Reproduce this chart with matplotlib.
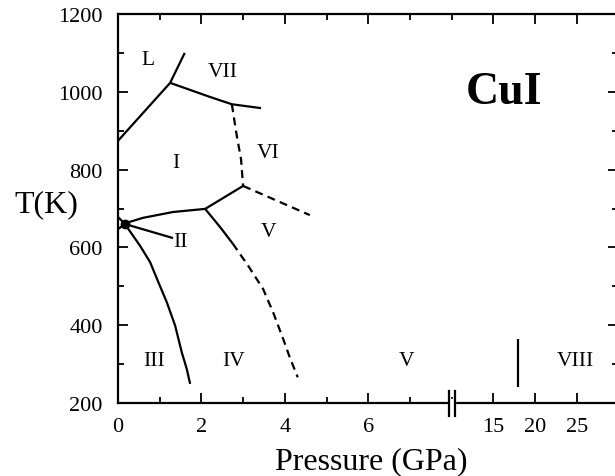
import numpy as np
import matplotlib
matplotlib.use("Agg")
import matplotlib.pyplot as plt
from matplotlib.patches import Rectangle
from matplotlib.transforms import blended_transform_factory

plt.rcParams["font.family"] = ["Liberation Serif", "DejaVu Serif"]

# ---------- phase boundaries of CuI (pressure in GPa, temperature in K) ----------
melt_I_P = [0.0, 1.25]
melt_I_T = [874, 1023]
melt_VII_P = [1.25, 1.6]
melt_VII_T = [1023, 1100]
I_VII_P = [1.25, 2.2, 2.73, 3.43]
I_VII_T = [1023, 987, 968, 958]
I_VI_P = [2.73, 2.85, 2.95, 3.0]
I_VI_T = [968, 886, 827, 758]
VI_V_P = [3.0, 4.6]
VI_V_T = [758, 683]
I_V_P = [2.09, 3.0]
I_V_T = [699, 758]
I_II_P = [0.17, 0.6, 1.32, 2.09]
I_II_T = [662, 676, 691, 699]
II_tail_P = [0.17, 1.32]
II_tail_T = [660, 624]
wedge_top_P = [0.0, 0.17]
wedge_top_T = [678, 660]
wedge_bot_P = [0.0, 0.17]
wedge_bot_T = [647, 660]
III_IV_P = [0.17, 0.25, 0.53, 0.77, 0.97, 1.17, 1.37, 1.53, 1.65, 1.73]
III_IV_T = [660, 647, 604, 562, 510, 459, 399, 330, 287, 249]
IV_V_P = [2.09, 2.45, 2.75]
IV_V_T = [699, 652, 610]
IV_V_dash_P = [2.75, 3.12, 3.48, 3.72, 3.96, 4.12, 4.31]
IV_V_dash_T = [610, 553, 493, 433, 365, 317, 266]
V_VIII_P = [18, 18]
V_VIII_T = [241, 364]
triple_P = 0.17
triple_T = 660

# phase names and where they sit
phase_names = ["L", "VII", "I", "VI", "II", "V", "III", "IV", "V", "VIII"]
phase_P = [0.72, 2.52, 1.39, 3.6, 1.49, 3.6, 0.86, 2.76, 6.93, 24.8]
phase_T = [1084, 1051, 817, 843, 614, 640, 308, 308, 308, 308]

tick_P = [0, 2, 4, 6, 15, 20, 25]
tick_labels = ["0", "2", "4", "6", "15", "20", "25"]


def to_axis(p):
    # low range is linear in GPa, high range compressed by 5
    p = np.asarray(p, dtype=float)
    return np.where(p <= 8, p, 6 + p / 5)


fig = plt.figure(figsize=(6.15, 4.77), dpi=100)
ax = fig.add_axes([118 / 615, 73 / 477, 500 / 615, 389 / 477])

lw = 1.6
solid = [(melt_I_P, melt_I_T), (melt_VII_P, melt_VII_T), (I_VII_P, I_VII_T),
         (I_V_P, I_V_T), (I_II_P, I_II_T), (II_tail_P, II_tail_T),
         (wedge_top_P, wedge_top_T), (wedge_bot_P, wedge_bot_T),
         (III_IV_P, III_IV_T), (IV_V_P, IV_V_T), (V_VIII_P, V_VIII_T)]
dashed = [(I_VI_P, I_VI_T), (VI_V_P, VI_V_T), (IV_V_dash_P, IV_V_dash_T)]

for p, t in solid:
    ax.plot(to_axis(p), t, color="black", lw=lw, solid_capstyle="butt",
            solid_joinstyle="round")
for p, t in dashed:
    ax.plot(to_axis(p), t, color="black", lw=lw, dashes=(3.6, 2.4))

ax.plot(to_axis([triple_P]), [triple_T], "o", color="black", ms=6)

for name, p, t in zip(phase_names, phase_P, phase_T):
    ax.text(to_axis(p), t, name, fontsize=15.5, ha="center", va="center")

ax.text(to_axis(16.3), 1000, "CuI", fontsize=33, fontweight="bold",
        ha="center", va="center")

ax.set_xlim(0, 11.99)
ax.set_ylim(200, 1200)

ax.set_xticks(to_axis(tick_P), labels=tick_labels)
ax.set_xticks([1, 3, 5, 7, 8, 11], minor=True)
ax.set_yticks(np.arange(200, 1201, 200))
ax.set_yticks(np.arange(300, 1200, 200), minor=True)
ax.tick_params(which="both", direction="in", top=True, right=True,
               labelsize=16, width=1.3)
ax.tick_params(which="major", length=7)
ax.tick_params(which="minor", length=4)
ax.tick_params(axis="x", pad=10)
ax.tick_params(axis="y", pad=11)
for s in ax.spines.values():
    s.set_linewidth(1.6)

# axis break on the pressure scale
tr = blended_transform_factory(ax.transData, ax.transAxes)
bx = float(to_axis(8))
ax.add_patch(Rectangle((bx - 0.07, -0.01), 0.14, 0.02, transform=tr,
                       color="white", clip_on=False, zorder=5))
for dx in (-0.07, 0.07):
    ax.plot([bx + dx, bx + dx], [-0.033, 0.031], transform=tr, color="black",
            lw=1.6, clip_on=False, zorder=6)

ax.text(-0.144, 0.512, "T(K)", transform=ax.transAxes, fontsize=23,
        ha="center", va="center")
ax.text(0.506, -0.148, "Pressure (GPa)", transform=ax.transAxes, fontsize=23,
        ha="center", va="center")

fig.savefig("out.png", dpi=100)
